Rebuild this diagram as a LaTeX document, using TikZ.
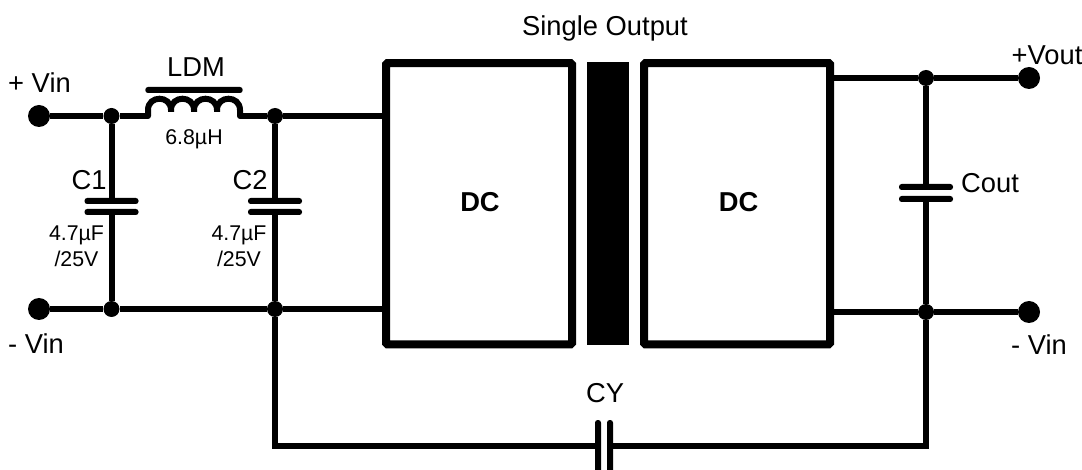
\documentclass[tikz,border=0pt]{standalone}
\usepackage{fontspec}
\setmainfont{Liberation Sans}
\usetikzlibrary{positioning}
\tikzset{
  wire/.style={line width=4.5pt},
  terminal/.style={circle, fill=black, inner sep=0pt, minimum size=16.5pt},
  junction/.style={circle, fill=black, inner sep=0pt, minimum size=12pt},
  plate/.style={rectangle, fill=black, rounded corners=2pt, inner sep=0pt, minimum width=40.5pt, minimum height=4.5pt},
  dcbox/.style={rectangle, draw, rounded corners=1pt, line width=6pt, outer sep=0pt, minimum width=139.5pt, minimum height=211pt},
  dctext/.style={font=\fontsize{20.5}{24}\selectfont\bfseries, inner sep=0pt},
  biglabel/.style={font=\fontsize{20.5}{24}\selectfont, inner sep=0pt},
  smalllabel/.style={font=\fontsize{16}{19.5}\selectfont, inner sep=0pt, align=center}
}
\begin{document}
\begin{tikzpicture}[x=0.75pt, y=-0.75pt]
\useasboundingbox (0,0) rectangle (1082,470);
% input side
\node[terminal] (vinp) at (39,116) {};
\node[terminal] (vinn) at (39,309) {};
\node[junction] (j1) at (111.5,116) {};
\node[junction] (j2) at (111.5,309) {};
\node[junction] (j3) at (275,116) {};
\node[junction] (j4) at (275,309) {};
\node[dcbox] (dcin) at (479,203.75) {};
\node[rectangle, fill=black, inner sep=0pt, minimum width=31.5pt, minimum height=212pt] (core) at (608,203.5) {};
\node[dcbox] (dcout) at (737,203.75) {};
\node[dctext] (dcinl) at (480,202) {DC};
\node[dctext] (dcoutl) at (738.5,202) {DC};
\coordinate (lstart) at (148,116);
\coordinate (lend) at (240,116);
\draw[wire] (vinp) -- (j1) -- (lstart);
\draw[wire] (lend) -- (j3) -- (dcin.west |- j3);
\draw[wire] (vinn) -- (j2) -- (j4) -- (dcin.west |- j4);
% inductor
\draw[wire, line cap=round] (lstart) -- (148,110)
  .. controls (148,95) and (171,95) .. (171,110) -- (171,112) -- (171,110)
  .. controls (171,95) and (194,95) .. (194,110) -- (194,112) -- (194,110)
  .. controls (194,95) and (217,95) .. (217,110) -- (217,112) -- (217,110)
  .. controls (217,95) and (240,95) .. (240,110) -- (lend);
\node[rectangle, fill=black, rounded corners=2pt, inner sep=0pt, minimum width=73pt, minimum height=4.5pt] (lbar) at (194,90) {};
% filter caps
\node[plate] (c1a) at (111.5,201) {};
\node[plate] (c1b) at (111.5,212) {};
\node[plate] (c2a) at (275,201) {};
\node[plate] (c2b) at (275,212) {};
\draw[wire] (j1) -- (c1a);
\draw[wire] (c1b) -- (j2);
\draw[wire] (j3) -- (c2a);
\draw[wire] (c2b) -- (j4);
% output side
\node[terminal] (voutp) at (1029,78) {};
\node[terminal] (voutn) at (1029,312) {};
\node[junction] (j5) at (926,78) {};
\node[junction] (j6) at (926,312) {};
\node[plate] (cza) at (926,187) {};
\node[plate] (czb) at (926,199) {};
\draw[wire] (dcout.east |- j5) -- (j5) -- (voutp);
\draw[wire] (dcout.east |- j6) -- (j6) -- (voutn);
\draw[wire] (j5) -- (cza);
\draw[wire] (czb) -- (j6);
% CY
\node[rectangle, fill=black, rounded corners=2pt, inner sep=0pt, minimum width=4.5pt, minimum height=42pt] (cya) at (598,448) {};
\node[rectangle, fill=black, rounded corners=2pt, inner sep=0pt, minimum width=4.5pt, minimum height=42pt] (cyb) at (610,448) {};
\coordinate (cl) at (275,446);
\coordinate (cr) at (926,446);
\draw[wire] (j4) -- (cl) -- (cya.west |- cl);
\draw[wire] (j6) -- (cr) -- (cyb.east |- cr);
% labels
\node[biglabel] (ttl) at (605,28) {Single Output};
\node[biglabel] (lvinp) at (39.5,83) {+ Vin};
\node[biglabel] (lvinn) at (36,344) {- Vin};
\node[biglabel] (lvoutp) at (1047,55) {+Vout};
\node[biglabel] (lvoutn) at (1039,345) {- Vin};
\node[biglabel] (lldm) at (196,67) {LDM};
\node[smalllabel] (lval) at (194,139) {6.8µH};
\node[biglabel] (lc1) at (89,180) {C1};
\node[biglabel] (lc2) at (250,180) {C2};
\node[smalllabel] (lc1v) at (76.5,246) {4.7µF\\/25V};
\node[smalllabel] (lc2v) at (239,246) {4.7µF\\/25V};
\node[biglabel] (lcz) at (990,183) {Cout};
\node[biglabel] (lcy) at (605,393) {CY};
\end{tikzpicture}
\end{document}
